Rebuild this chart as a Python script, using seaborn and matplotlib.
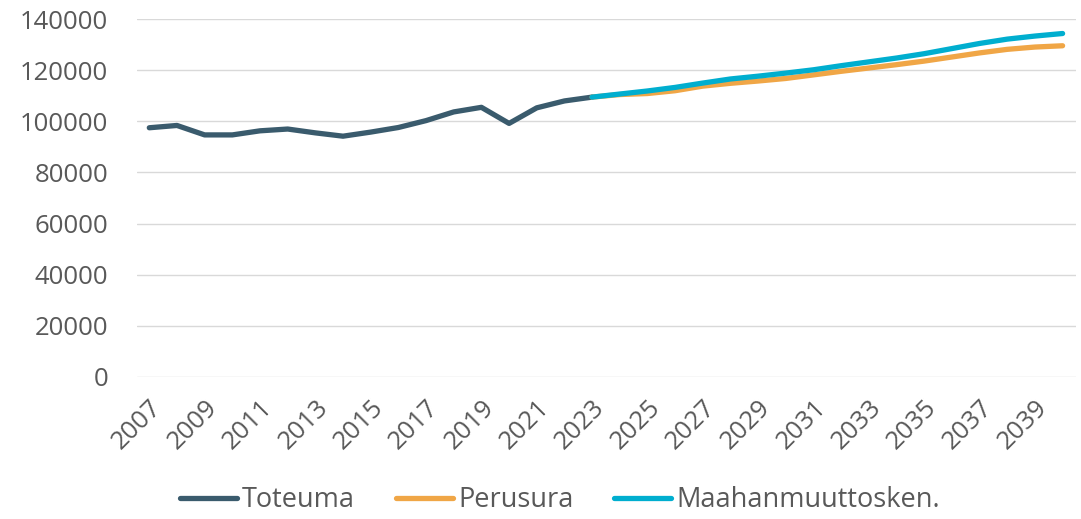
import pandas as pd
import numpy as np
import seaborn as sns
import matplotlib.pyplot as plt

sns.set_style("white")
plt.rcParams["font.family"] = ["Open Sans", "DejaVu Sans"]

# ===================== DATA =====================
years_hist = list(range(2007, 2024))
toteuma = [97500, 98400, 94700, 94700, 96300, 97000, 95500, 94200, 95800, 97600,
           100300, 103700, 105500, 99200, 105300, 108000, 109500]

years_proj = list(range(2023, 2041))
perusura = [109500, 110500, 110900, 112000, 113800, 114900, 115800, 116800, 118200,
            119600, 120900, 122200, 123600, 125200, 126800, 128200, 129100, 129600]
maahanmuutto = [109500, 110700, 111900, 113300, 115000, 116600, 117700, 118900, 120200,
                121800, 123300, 124800, 126500, 128500, 130500, 132200, 133400, 134400]

series_names = ["Toteuma", "Perusura", "Maahanmuuttosken."]
colors = ["#3A5B6D", "#F0A646", "#00AECF"]

df = pd.concat([
    pd.DataFrame({"Vuosi": years_hist, "Arvo": toteuma, "Sarja": series_names[0]}),
    pd.DataFrame({"Vuosi": years_proj, "Arvo": perusura, "Sarja": series_names[1]}),
    pd.DataFrame({"Vuosi": years_proj, "Arvo": maahanmuutto, "Sarja": series_names[2]}),
])

# ===================== PLOT =====================
fig, ax = plt.subplots(figsize=(10.81, 5.19), dpi=100)
fig.subplots_adjust(left=0.127, right=0.995, top=0.963, bottom=0.274)

sns.lineplot(data=df, x="Vuosi", y="Arvo", hue="Sarja", hue_order=series_names,
             palette=colors, linewidth=3.8, ax=ax, legend=True,
             solid_capstyle="round")

ax.set_xlim(2006.566, 2040.47)
ax.set_ylim(0, 140000)
ax.set_yticks(np.arange(0, 140001, 20000))
ax.set_xticks(range(2007, 2041, 2))
ax.tick_params(axis="both", length=0, labelsize=18.5, labelcolor="#595959")
ax.tick_params(axis="y", pad=21)
ax.tick_params(axis="x", pad=13)
plt.setp(ax.get_xticklabels(), rotation=45, ha="right", rotation_mode="anchor")
ax.yaxis.grid(True, color="#D9D9D9", linewidth=1)
ax.set_xlabel("")
ax.set_ylabel("")
sns.despine(ax=ax, left=True, bottom=True)

# draw Toteuma on top
for line in ax.get_lines():
    if line.get_label() == "Toteuma":
        line.set_zorder(5)

handles, labels = ax.get_legend_handles_labels()
ax.legend_.remove()
fig.legend(handles, labels, loc="center", bbox_to_anchor=(0.518, 0.036), ncol=3,
           frameon=False, fontsize=19.5, handlelength=2.1, handletextpad=0.2,
           columnspacing=1.5, labelcolor="#595959", borderpad=0.1)

fig.savefig("out.png", dpi=100)
